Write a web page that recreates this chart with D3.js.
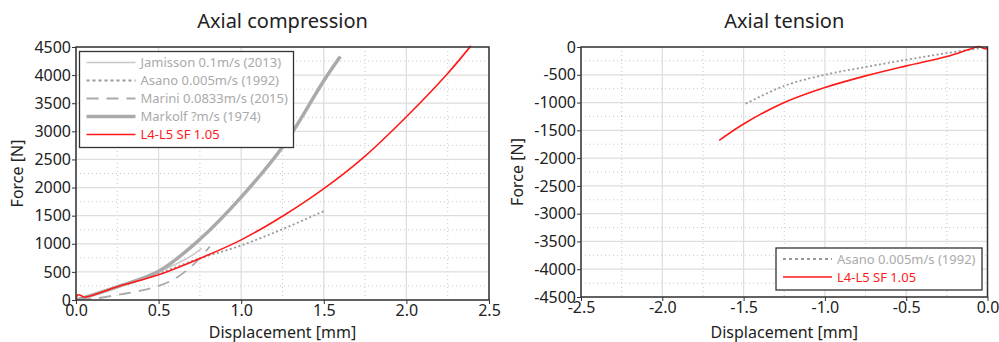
<!DOCTYPE html>
<html>
<head>
<meta charset="utf-8">
<script src="https://cdn.jsdelivr.net/npm/d3@7"></script>
<style>
  body { margin: 0; background: #fff; }
  svg { font-family: "Noto Sans", "Open Sans", sans-serif; }
</style>
</head>
<body>
<svg width="999" height="342"></svg>
<script>
// compression curves [displacement mm, force N]
const jamissonComp = [[0,0],[0.1,100],[0.2,200],[0.3,295],[0.4,395],[0.5,505],[0.6,630],[0.7,790],[0.76,920]];
const asanoComp = [[0,0],[0.25,230],[0.5,470],[0.75,740],[1.0,970],[1.25,1260],[1.5,1580]];
const mariniComp = [[0.02,0],[0.1,20],[0.25,90],[0.4,170],[0.5,250],[0.6,380],[0.7,600],[0.75,750],[0.81,950]];
const markolfComp = [[0,0],[0.25,235],[0.5,510],[0.75,1080],[1.0,1830],[1.25,2720],[1.5,3900],[1.6,4330]];
const modelComp = [[0,0],[0.01,90],[0.03,80],[0.05,50],[0.25,235],[0.5,450],[0.75,740],[1.0,1070],[1.25,1490],[1.5,1980],[1.75,2560],[2.0,3260],[2.25,4030],[2.39,4520]];

// tension curves
const asanoTens = [[0,0],[-0.25,-110],[-0.5,-230],[-0.75,-360],[-1.0,-500],[-1.25,-700],[-1.5,-1040]];
const modelTens = [[0,-30],[-0.02,-30],[-0.05,10],[-0.1,-30],[-0.25,-170],[-0.5,-340],[-0.75,-520],[-1.0,-730],[-1.25,-1000],[-1.5,-1385],[-1.65,-1680]];

const compXTicks = [0, 0.5, 1.0, 1.5, 2.0, 2.5];
const compYTicks = [0, 500, 1000, 1500, 2000, 2500, 3000, 3500, 4000, 4500];
const tensXTicks = [-2.5, -2.0, -1.5, -1.0, -0.5, 0];
const tensYTicks = [0, -500, -1000, -1500, -2000, -2500, -3000, -3500, -4000, -4500];

const styles = {
  jamisson: { color: '#c8c8c8', width: 1.6, dash: null },
  asano: { color: '#999', width: 1.8, dash: '2,2.5' },
  marini: { color: '#aaa', width: 1.8, dash: '12,8' },
  markolf: { color: '#aaa', width: 3.5, dash: null },
  model: { color: '#ff1a1a', width: 1.6, dash: null }
};

const svg = d3.select('svg');

const drawPanel = (cfg) => {
  const { left, right, top, bottom } = cfg.box;
  const x = d3.scaleLinear().domain(cfg.xDomain).range([left, right]);
  const y = d3.scaleLinear().domain(cfg.yDomain).range([bottom, top]);
  const g = svg.append('g');

  // minor grid (dotted)
  const xMinor = d3.range(cfg.xDomain[0], cfg.xDomain[1] + 1e-9, 0.25).filter(v => Math.abs(v * 2 - Math.round(v * 2)) > 1e-6);
  const yMinor = d3.range(d3.min(cfg.yDomain) + 250, d3.max(cfg.yDomain), 500);
  g.selectAll('.xm').data(xMinor).enter().append('line')
    .attr('x1', d => x(d)).attr('x2', d => x(d)).attr('y1', top).attr('y2', bottom)
    .attr('stroke', '#c8c8c8').attr('stroke-dasharray', '1,3');
  g.selectAll('.ym').data(yMinor).enter().append('line')
    .attr('x1', left).attr('x2', right).attr('y1', d => y(d)).attr('y2', d => y(d))
    .attr('stroke', '#c8c8c8').attr('stroke-dasharray', '1,3');

  // major grid
  g.selectAll('.xg').data(cfg.xTicks).enter().append('line')
    .attr('x1', d => x(d)).attr('x2', d => x(d)).attr('y1', top).attr('y2', bottom)
    .attr('stroke', '#ddd').attr('stroke-width', 1.2);
  g.selectAll('.yg').data(cfg.yTicks).enter().append('line')
    .attr('x1', left).attr('x2', right).attr('y1', d => y(d)).attr('y2', d => y(d))
    .attr('stroke', '#ddd').attr('stroke-width', 1.2);

  // curves
  const line = d3.line().x(d => x(d[0])).y(d => y(d[1])).curve(d3.curveCatmullRom);
  const clipId = 'clip' + cfg.id;
  svg.append('clipPath').attr('id', clipId).append('rect')
    .attr('x', left).attr('y', top - 2).attr('width', right - left).attr('height', bottom - top + 2);
  const lines = g.append('g').attr('clip-path', `url(#${clipId})`);
  cfg.series.forEach(s => {
    const st = styles[s.key];
    lines.append('path').attr('d', line(s.data))
      .attr('fill', 'none').attr('stroke', st.color)
      .attr('stroke-width', st.width)
      .attr('stroke-dasharray', st.dash)
      .attr('stroke-linejoin', 'round');
  });

  // frame
  g.append('rect').attr('x', left).attr('y', top).attr('width', right - left).attr('height', bottom - top)
    .attr('fill', 'none').attr('stroke', '#333').attr('stroke-width', 1.5);

  // axes
  const fmtX = d3.format('.1f');
  const xAxis = g.append('g').attr('transform', `translate(0,${bottom})`)
    .call(d3.axisBottom(x).tickValues(cfg.xTicks).tickFormat(d => fmtX(d).replace('−', '-')).tickSize(4).tickPadding(1));
  const yAxis = g.append('g').attr('transform', `translate(${left},0)`)
    .call(d3.axisLeft(y).tickValues(cfg.yTicks).tickFormat(d => String(d)).tickSize(4).tickPadding(1));
  [xAxis, yAxis].forEach(a => {
    a.select('.domain').remove();
    a.selectAll('text').attr('font-size', 16).attr('fill', '#222').attr('font-family', '"Noto Sans", sans-serif');
    a.selectAll('line').attr('stroke', '#333');
  });

  // titles
  g.append('text').attr('x', (left + right) / 2).attr('y', 28).attr('text-anchor', 'middle')
    .attr('font-size', 20).attr('fill', '#222').text(cfg.title);
  g.append('text').attr('x', (left + right) / 2).attr('y', 338).attr('text-anchor', 'middle')
    .attr('font-size', 16).attr('fill', '#222').text('Displacement [mm]');
  g.append('text').attr('transform', `translate(${cfg.yLabelX},${(top + bottom) / 2}) rotate(-90)`)
    .attr('text-anchor', 'middle').attr('font-size', 16).attr('fill', '#222').text('Force [N]');

  // legend
  const lg = cfg.legend;
  const leg = g.append('g');
  leg.append('rect').attr('x', lg.x).attr('y', lg.y).attr('width', lg.w).attr('height', lg.h)
    .attr('fill', '#fff').attr('stroke', '#333').attr('stroke-width', 1.3);
  cfg.series.forEach((s, i) => {
    const st = styles[s.key];
    const yy = lg.y + 11 + i * 18;
    leg.append('line').attr('x1', lg.x + 7).attr('x2', lg.x + 56).attr('y1', yy).attr('y2', yy)
      .attr('stroke', st.color).attr('stroke-width', st.width).attr('stroke-dasharray', st.dash === '2,2.5' ? '3,3' : st.dash);
    leg.append('text').attr('x', lg.x + 61).attr('y', yy + 4.5).attr('font-size', 13)
      .attr('fill', s.key === 'model' ? '#ff1a1a' : '#aaa').text(s.label);
  });
};

drawPanel({
  id: 'c',
  box: { left: 76, right: 489, top: 47, bottom: 300 },
  xDomain: [0, 2.5], yDomain: [0, 4500],
  xTicks: compXTicks, yTicks: compYTicks,
  title: 'Axial compression', yLabelX: 23,
  series: [
    { key: 'jamisson', label: 'Jamisson 0.1m/s (2013)', data: jamissonComp },
    { key: 'asano', label: 'Asano 0.005m/s (1992)', data: asanoComp },
    { key: 'marini', label: 'Marini 0.0833m/s (2015)', data: mariniComp },
    { key: 'markolf', label: 'Markolf ?m/s (1974)', data: markolfComp },
    { key: 'model', label: 'L4-L5 SF 1.05', data: modelComp }
  ],
  legend: { x: 79.5, y: 51.5, w: 214, h: 96 }
});

drawPanel({
  id: 't',
  box: { left: 581, right: 987.5, top: 47, bottom: 297 },
  xDomain: [-2.5, 0], yDomain: [-4500, 0],
  xTicks: tensXTicks, yTicks: tensYTicks,
  title: 'Axial tension', yLabelX: 523,
  series: [
    { key: 'asano', label: 'Asano 0.005m/s (1992)', data: asanoTens },
    { key: 'model', label: 'L4-L5 SF 1.05', data: modelTens }
  ],
  legend: { x: 776, y: 248, w: 206, h: 42 }
});
</script>
</body>
</html>
